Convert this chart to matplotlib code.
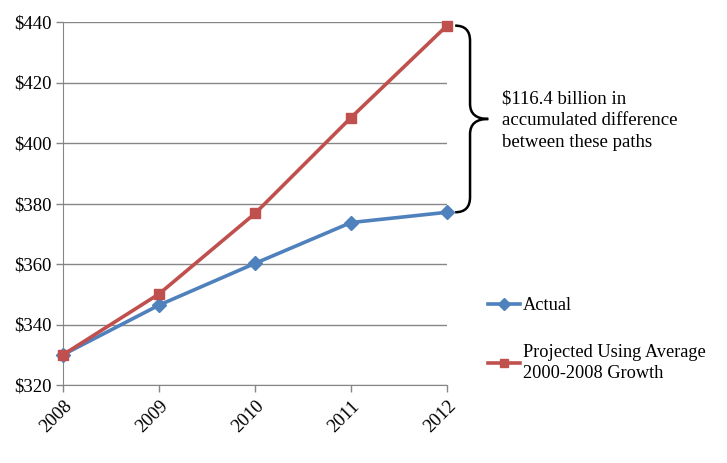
import matplotlib.pyplot as plt
from matplotlib.path import Path
from matplotlib.patches import PathPatch

plt.rcParams['font.family'] = ['Liberation Serif', 'DejaVu Serif']

years = ["2008", "2009", "2010", "2011", "2012"]
actual = [330.0, 346.4, 360.2, 373.7, 377.1]
projected = [330.0, 350.1, 376.7, 408.4, 438.8]
y_ticks = [320, 340, 360, 380, 400, 420, 440]
note = "$116.4 billion in\naccumulated difference\nbetween these paths"

blue = "#4F81BD"
red = "#C0504D"
grid_col = "#868686"

fig = plt.figure(figsize=(7.27, 4.63), dpi=100)
ax = fig.add_axes([63 / 727, 1 - 385 / 463, 384 / 727, 363 / 463])

x = list(range(len(years)))
ax.plot(x, actual, color=blue, lw=2.6, marker="D", ms=7.5, label="Actual", zorder=3, clip_on=False)
ax.plot(x, projected, color=red, lw=2.6, marker="s", ms=7, label="Projected Using Average\n2000-2008 Growth",
        zorder=4, clip_on=False)

ax.set_xlim(0, len(years) - 1)
ax.set_ylim(320, 440)
ax.set_yticks(y_ticks)
ax.set_yticklabels([f"${v}" for v in y_ticks], fontsize=13.5)
ax.set_xticks(x)
ax.set_xticklabels(years, fontsize=13.5, rotation=45, ha="right", rotation_mode="anchor")
ax.tick_params(axis="both", color=grid_col, length=5, width=1)
ax.tick_params(axis="x", pad=4)
ax.yaxis.grid(True, color=grid_col, lw=1)
ax.set_axisbelow(True)
for s in ["top", "right"]:
    ax.spines[s].set_visible(False)
for s in ["left", "bottom"]:
    ax.spines[s].set_color(grid_col)

# curly brace between the two 2012 values
x0 = 4.085
xm = 4.24
xt = 4.43
top, bot = projected[-1], actual[-1]
mid = (top + bot) / 2
verts = [
    (x0, top), (xm, top), (xm, top - 5),
    (xm, mid + 5),
    (xm, mid), (xt, mid),
    (xm, mid), (xm, mid - 5),
    (xm, bot + 5),
    (xm, bot), (x0, bot),
]
codes = [Path.MOVETO, Path.CURVE3, Path.CURVE3, Path.LINETO,
         Path.CURVE3, Path.CURVE3, Path.CURVE3, Path.CURVE3,
         Path.LINETO, Path.CURVE3, Path.CURVE3]
ax.add_patch(PathPatch(Path(verts, codes), fill=False, lw=1.8, color="black", clip_on=False))
ax.text(4.57, mid - 0.5, note, fontsize=13.5, va="center", ha="left", linespacing=1.35)

fig.legend(loc="upper left", bbox_to_anchor=(481 / 727, 1 - 290 / 463), frameon=False, fontsize=13.2,
           handlelength=1.75, handletextpad=0.15, labelspacing=1.6, borderaxespad=0,
           markerscale=0.8)
for t in fig.legends[0].get_texts():
    t.set_linespacing(1.35)

fig.savefig("out.png", dpi=100)
